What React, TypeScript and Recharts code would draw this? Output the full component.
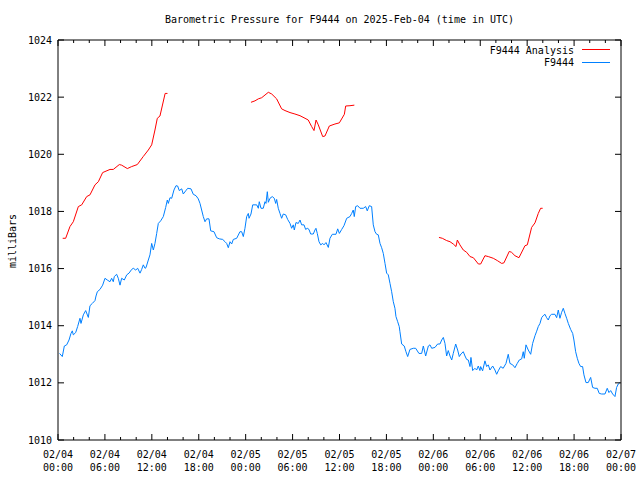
import React from 'react';
import { LineChart, Line, XAxis, YAxis } from 'recharts';

const title = 'Barometric Pressure for F9444 on 2025-Feb-04 (time in UTC)';
const yLabel = 'milliBars';
const analysisName = 'F9444 Analysis';
const stationName = 'F9444';

// hours since 02/04 00:00 UTC, labelled every 6h, small ticks every 2h
const xTicks = [
  0, 2, 4, 6, 8, 10, 12, 14, 16, 18, 20, 22, 24, 26, 28, 30, 32, 34, 36,
  38, 40, 42, 44, 46, 48, 50, 52, 54, 56, 58, 60, 62, 64, 66, 68, 70, 72,
];
const yTicks = [1010, 1012, 1014, 1016, 1018, 1020, 1022, 1024];

// [hours since 02/04 00:00 UTC, mbar]
const analysisDay1: [number, number][] = [
  [0.6, 1017.06], [0.98, 1017.06], [1.53, 1017.47], [1.96, 1017.64], [2.6, 1018.17],
  [3.03, 1018.23], [3.67, 1018.52], [4.09, 1018.58], [4.73, 1018.93], [5.16, 1019.04],
  [5.71, 1019.36], [6.65, 1019.47], [7.07, 1019.47], [7.84, 1019.64], [8.14, 1019.62],
  [8.87, 1019.5], [9.42, 1019.57], [10.14, 1019.64], [10.9, 1019.92], [11.55, 1020.15],
  [11.98, 1020.33], [12.4, 1020.85], [12.7, 1021.26], [13.04, 1021.34], [13.7, 1022.13],
  [14.0, 1022.13],
];

const analysisDay2: [number, number][] = [
  [24.68, 1021.82], [25.19, 1021.87], [25.62, 1021.94], [26.05, 1021.98], [26.9, 1022.17],
  [27.33, 1022.11], [27.96, 1021.94], [28.6, 1021.59], [29.03, 1021.53], [29.67, 1021.46],
  [30.3, 1021.41], [30.95, 1021.35], [31.59, 1021.26], [32.0, 1021.2], [32.44, 1020.97],
  [32.74, 1020.83], [33.0, 1021.2], [33.29, 1021.03], [33.85, 1020.62], [34.14, 1020.64],
  [34.7, 1020.99], [35.42, 1021.06], [35.98, 1021.1], [36.62, 1021.4], [36.79, 1021.69],
  [37.34, 1021.7], [37.9, 1021.72],
];

const analysisDay3: [number, number][] = [
  [48.72, 1017.09], [49.15, 1017.06], [49.7, 1016.98], [50.13, 1016.94], [50.55, 1016.86],
  [50.9, 1016.77], [51.07, 1017.0], [51.4, 1016.83], [51.83, 1016.65], [52.26, 1016.57],
  [52.69, 1016.42], [53.12, 1016.38], [53.76, 1016.16], [54.05, 1016.16], [54.6, 1016.45],
  [55.03, 1016.42], [55.67, 1016.36], [56.18, 1016.28], [56.74, 1016.18], [57.03, 1016.2],
  [57.71, 1016.6], [58.0, 1016.57], [58.44, 1016.45], [58.95, 1016.38], [59.72, 1016.8],
  [60.02, 1016.83], [60.57, 1017.44], [61.0, 1017.6], [61.42, 1017.93], [61.72, 1018.11],
  [61.98, 1018.11],
];

const station: [number, number][] = [
  [0.2, 1013.03], [0.55, 1012.92], [0.81, 1013.29], [1.11, 1013.33], [1.41, 1013.5],
  [1.66, 1013.73], [1.83, 1013.82], [1.96, 1013.68], [2.26, 1013.76], [2.51, 1013.97],
  [2.81, 1014.26], [2.94, 1014.08], [3.24, 1014.38], [3.54, 1014.53], [3.88, 1014.29],
  [4.09, 1014.7], [4.39, 1014.78], [4.73, 1014.88], [4.86, 1015.04], [5.03, 1015.19],
  [5.37, 1015.27], [5.71, 1015.42], [6.01, 1015.66], [6.3, 1015.6], [6.65, 1015.54],
  [6.86, 1015.66], [7.07, 1015.54], [7.2, 1015.72], [7.5, 1015.8], [7.71, 1015.66],
  [7.93, 1015.42], [8.14, 1015.66], [8.48, 1015.6], [8.79, 1015.78], [9.08, 1015.84],
  [9.42, 1015.97], [9.63, 1016.01], [9.94, 1015.95], [10.19, 1016.01], [10.49, 1015.84],
  [10.7, 1015.97], [10.91, 1016.13], [11.13, 1016.01], [11.25, 1016.03], [11.55, 1016.3],
  [11.76, 1016.48], [11.98, 1016.88], [12.19, 1016.65], [12.4, 1016.88], [12.62, 1017.23],
  [12.83, 1017.58], [13.13, 1017.67], [13.47, 1017.82], [13.77, 1018.14], [13.98, 1018.4],
  [14.11, 1018.28], [14.32, 1018.48], [14.54, 1018.46], [14.83, 1018.75], [15.09, 1018.9],
  [15.3, 1018.89], [15.51, 1018.73], [15.82, 1018.79], [16.02, 1018.61], [16.33, 1018.72],
  [16.59, 1018.81], [17.01, 1018.79], [17.3, 1018.6], [17.65, 1018.55], [17.94, 1018.44],
  [18.16, 1018.28], [18.37, 1018.05], [18.58, 1017.82], [18.8, 1017.64], [19.01, 1017.74],
  [19.31, 1017.74], [19.53, 1017.32], [19.95, 1017.29], [20.29, 1017.08], [20.63, 1017.04],
  [21.06, 1017.02], [21.36, 1016.94], [21.57, 1016.88], [21.78, 1016.73], [22.0, 1016.94],
  [22.21, 1016.86], [22.42, 1017.02], [22.85, 1017.06], [23.27, 1017.29], [23.49, 1017.29],
  [23.7, 1017.12], [23.91, 1017.41], [24.13, 1017.82], [24.34, 1017.93], [24.43, 1017.76],
  [24.68, 1017.91], [24.9, 1018.23], [25.41, 1018.23], [25.62, 1018.11], [25.74, 1018.34],
  [25.96, 1018.11], [26.25, 1018.11], [26.47, 1018.34], [26.6, 1018.28], [26.77, 1018.69],
  [26.9, 1018.32], [27.11, 1018.46], [27.4, 1018.52], [27.66, 1018.46], [27.84, 1018.28],
  [27.96, 1018.42], [28.17, 1018.11], [28.39, 1017.93], [28.6, 1017.76], [28.81, 1017.91],
  [29.12, 1017.88], [29.37, 1017.72], [29.67, 1017.58], [29.88, 1017.41], [30.09, 1017.53],
  [30.22, 1017.35], [30.43, 1017.61], [30.73, 1017.58], [30.95, 1017.7], [31.16, 1017.53],
  [31.46, 1017.53], [31.67, 1017.37], [31.88, 1017.41], [32.1, 1017.37], [32.31, 1017.21],
  [32.65, 1017.21], [32.86, 1017.35], [32.99, 1017.41], [33.16, 1017.23], [33.38, 1016.94],
  [33.6, 1016.83], [33.85, 1016.88], [34.02, 1016.83], [34.27, 1016.91], [34.57, 1016.74],
  [34.78, 1017.06], [35.08, 1017.2], [35.55, 1017.2], [35.77, 1017.39], [35.98, 1017.23],
  [36.28, 1017.37], [36.57, 1017.5], [36.92, 1017.76], [37.34, 1017.82], [37.56, 1017.93],
  [37.76, 1018.05], [37.89, 1017.82], [38.07, 1018.17], [38.32, 1018.2], [38.62, 1018.11],
  [39.04, 1018.11], [39.35, 1018.17], [39.55, 1018.02], [39.81, 1018.2], [40.11, 1018.17],
  [40.32, 1017.53], [40.54, 1017.29], [40.75, 1017.2], [40.96, 1017.18], [41.18, 1016.88],
  [41.39, 1016.73], [41.6, 1016.53], [41.82, 1016.18], [42.03, 1015.84], [42.24, 1015.78],
  [42.46, 1015.48], [42.67, 1015.19], [42.88, 1014.84], [43.09, 1014.61], [43.22, 1014.32],
  [43.44, 1014.14], [43.64, 1013.97], [43.73, 1013.79], [43.95, 1013.36], [44.28, 1013.29],
  [44.5, 1013.09], [44.72, 1012.92], [45.01, 1013.17], [45.44, 1013.21], [45.74, 1013.21],
  [46.16, 1013.03], [46.51, 1013.03], [46.72, 1013.29], [47.02, 1012.94], [47.36, 1013.29],
  [47.57, 1013.33], [47.79, 1013.21], [48.21, 1013.24], [48.55, 1013.36], [48.85, 1013.36],
  [49.07, 1013.5], [49.28, 1013.59], [49.49, 1013.38], [49.7, 1012.94], [49.91, 1013.13],
  [50.13, 1012.94], [50.35, 1012.8], [50.55, 1013.03], [50.86, 1013.36], [51.11, 1013.15],
  [51.32, 1012.92], [51.53, 1013.01], [51.83, 1013.09], [52.05, 1012.94], [52.26, 1012.82],
  [52.47, 1012.8], [52.69, 1012.57], [52.81, 1012.89], [53.03, 1012.43], [53.32, 1012.51],
  [53.54, 1012.45], [53.75, 1012.59], [53.96, 1012.43], [54.05, 1012.57], [54.3, 1012.42],
  [54.6, 1012.77], [54.82, 1012.57], [55.03, 1012.63], [55.24, 1012.45], [55.59, 1012.59],
  [55.88, 1012.45], [56.1, 1012.3], [56.3, 1012.42], [56.61, 1012.57], [56.93, 1012.51],
  [57.29, 1012.68], [57.58, 1013.0], [57.8, 1012.68], [58.15, 1012.63], [58.44, 1012.53],
  [58.73, 1012.68], [58.99, 1012.8], [59.3, 1012.84], [59.5, 1013.09], [59.63, 1012.86],
  [59.85, 1013.33], [60.14, 1013.15], [60.45, 1013.0], [60.7, 1013.38], [61.0, 1013.65],
  [61.22, 1013.81], [61.42, 1013.97], [61.64, 1014.08], [61.85, 1014.28], [62.05, 1014.35],
  [62.28, 1014.4], [62.49, 1014.28], [62.7, 1014.2], [62.92, 1014.35], [63.13, 1014.4],
  [63.55, 1014.4], [63.77, 1014.28], [63.98, 1014.55], [64.19, 1014.26], [64.41, 1014.47],
  [64.62, 1014.61], [64.83, 1014.43], [65.05, 1014.26], [65.26, 1014.08], [65.56, 1013.87],
  [65.82, 1013.73], [65.98, 1013.5], [66.2, 1013.09], [66.41, 1012.86], [66.62, 1012.68],
  [66.84, 1012.57], [67.09, 1012.57], [67.26, 1012.28], [67.52, 1012.01], [67.81, 1012.01],
  [68.12, 1012.19], [68.37, 1011.84], [68.67, 1011.81], [68.96, 1011.81], [69.22, 1011.63],
  [69.53, 1011.61], [69.95, 1011.61], [70.24, 1011.81], [70.46, 1011.66], [70.68, 1011.73],
  [70.93, 1011.61], [71.23, 1011.52], [71.44, 1011.84], [71.65, 1011.96], [71.87, 1012.01],
];

const RED = '#ff0000';
const BLUE = '#0080ff';
const FONT = '"DejaVu Sans Mono", monospace';

const toPoints = (rows: [number, number][]) => rows.map(([t, p]) => ({ t, p }));

const pad = (n: number) => (n < 10 ? '0' + n : '' + n);
const dateLabel = (h: number) => '02/' + pad(4 + Math.floor(h / 24));
const timeLabel = (h: number) => pad(h % 24) + ':00';

const BottomTick = (props: any) => {
  const { x, y, payload } = props;
  const h = payload.value;
  const major = h % 6 === 0;
  return (
    <g>
      <line x1={x} x2={x} y1={y} y2={y - (major ? 6 : 3)} stroke="#000" />
      {major && (
        <text x={x} y={y + 18} textAnchor="middle" fontFamily={FONT} fontSize={10} fill="#000">
          <tspan x={x}>{dateLabel(h)}</tspan>
          <tspan x={x} dy={13}>{timeLabel(h)}</tspan>
        </text>
      )}
    </g>
  );
};

const TopTick = (props: any) => {
  const { x, y, payload } = props;
  const major = payload.value % 6 === 0;
  return <line x1={x} x2={x} y1={y} y2={y + (major ? 6 : 3)} stroke="#000" />;
};

const LeftTick = (props: any) => {
  const { x, y, payload } = props;
  return (
    <g>
      <line x1={x} x2={x + 6} y1={y} y2={y} stroke="#000" />
      <text x={x - 6} y={y + 3.5} textAnchor="end" fontFamily={FONT} fontSize={10} fill="#000">
        {payload.value}
      </text>
    </g>
  );
};

const RightTick = (props: any) => {
  const { x, y } = props;
  return <line x1={x} x2={x - 6} y1={y} y2={y} stroke="#000" />;
};

const axisLine = { stroke: '#000' };

export default function App() {
  return (
    <div style={{ position: 'absolute', left: 0, top: 0, width: 640, height: 480, background: '#fff' }}>
      <LineChart width={640} height={480} margin={{ top: 0, right: 0, bottom: 0, left: 0 }}>
        <XAxis
          xAxisId="bottom"
          type="number"
          dataKey="t"
          domain={[0, 72]}
          ticks={xTicks}
          interval={0}
          height={40}
          tickSize={0}
          tickMargin={0}
          tickLine={false}
          axisLine={axisLine}
          tick={BottomTick}
          allowDataOverflow
        />
        <XAxis
          xAxisId="top"
          orientation="top"
          type="number"
          dataKey="t"
          domain={[0, 72]}
          ticks={xTicks}
          interval={0}
          height={40}
          tickSize={0}
          tickMargin={0}
          tickLine={false}
          axisLine={axisLine}
          tick={TopTick}
          allowDataOverflow
        />
        <YAxis
          yAxisId="left"
          type="number"
          domain={[1010, 1024]}
          ticks={yTicks}
          interval={0}
          width={58}
          tickSize={0}
          tickMargin={0}
          tickLine={false}
          axisLine={axisLine}
          tick={LeftTick}
          allowDataOverflow
        />
        <YAxis
          yAxisId="right"
          orientation="right"
          type="number"
          domain={[1010, 1024]}
          ticks={yTicks}
          interval={0}
          width={19}
          tickSize={0}
          tickMargin={0}
          tickLine={false}
          axisLine={axisLine}
          tick={RightTick}
          allowDataOverflow
        />
        {[analysisDay1, analysisDay2, analysisDay3].map((seg, i) => (
          <Line
            key={'a' + i}
            xAxisId="bottom"
            yAxisId="left"
            data={toPoints(seg)}
            dataKey="p"
            stroke={RED}
            strokeWidth={1}
            dot={false}
            type="linear"
            isAnimationActive={false}
          />
        ))}
        <Line
          xAxisId="bottom"
          yAxisId="left"
          data={toPoints(station)}
          dataKey="p"
          stroke={BLUE}
          strokeWidth={1}
          dot={false}
          type="linear"
          isAnimationActive={false}
        />
      </LineChart>
      <svg
        width={640}
        height={480}
        style={{ position: 'absolute', left: 0, top: 0, pointerEvents: 'none' }}
      >
        <text x={339.5} y={23} textAnchor="middle" fontFamily={FONT} fontSize={10} fill="#000">
          {title}
        </text>
        <text
          x={0}
          y={0}
          transform="translate(15.5, 241) rotate(-90)"
          textAnchor="middle"
          fontFamily={FONT}
          fontSize={10}
          fill="#000"
        >
          {yLabel}
        </text>
        <text x={574} y={53.5} textAnchor="end" fontFamily={FONT} fontSize={10} fill="#000">
          {analysisName}
        </text>
        <line x1={582} x2={610} y1={49.5} y2={49.5} stroke={RED} />
        <text x={574} y={66} textAnchor="end" fontFamily={FONT} fontSize={10} fill="#000">
          {stationName}
        </text>
        <line x1={582} x2={610} y1={62.5} y2={62.5} stroke={BLUE} />
      </svg>
    </div>
  );
}
